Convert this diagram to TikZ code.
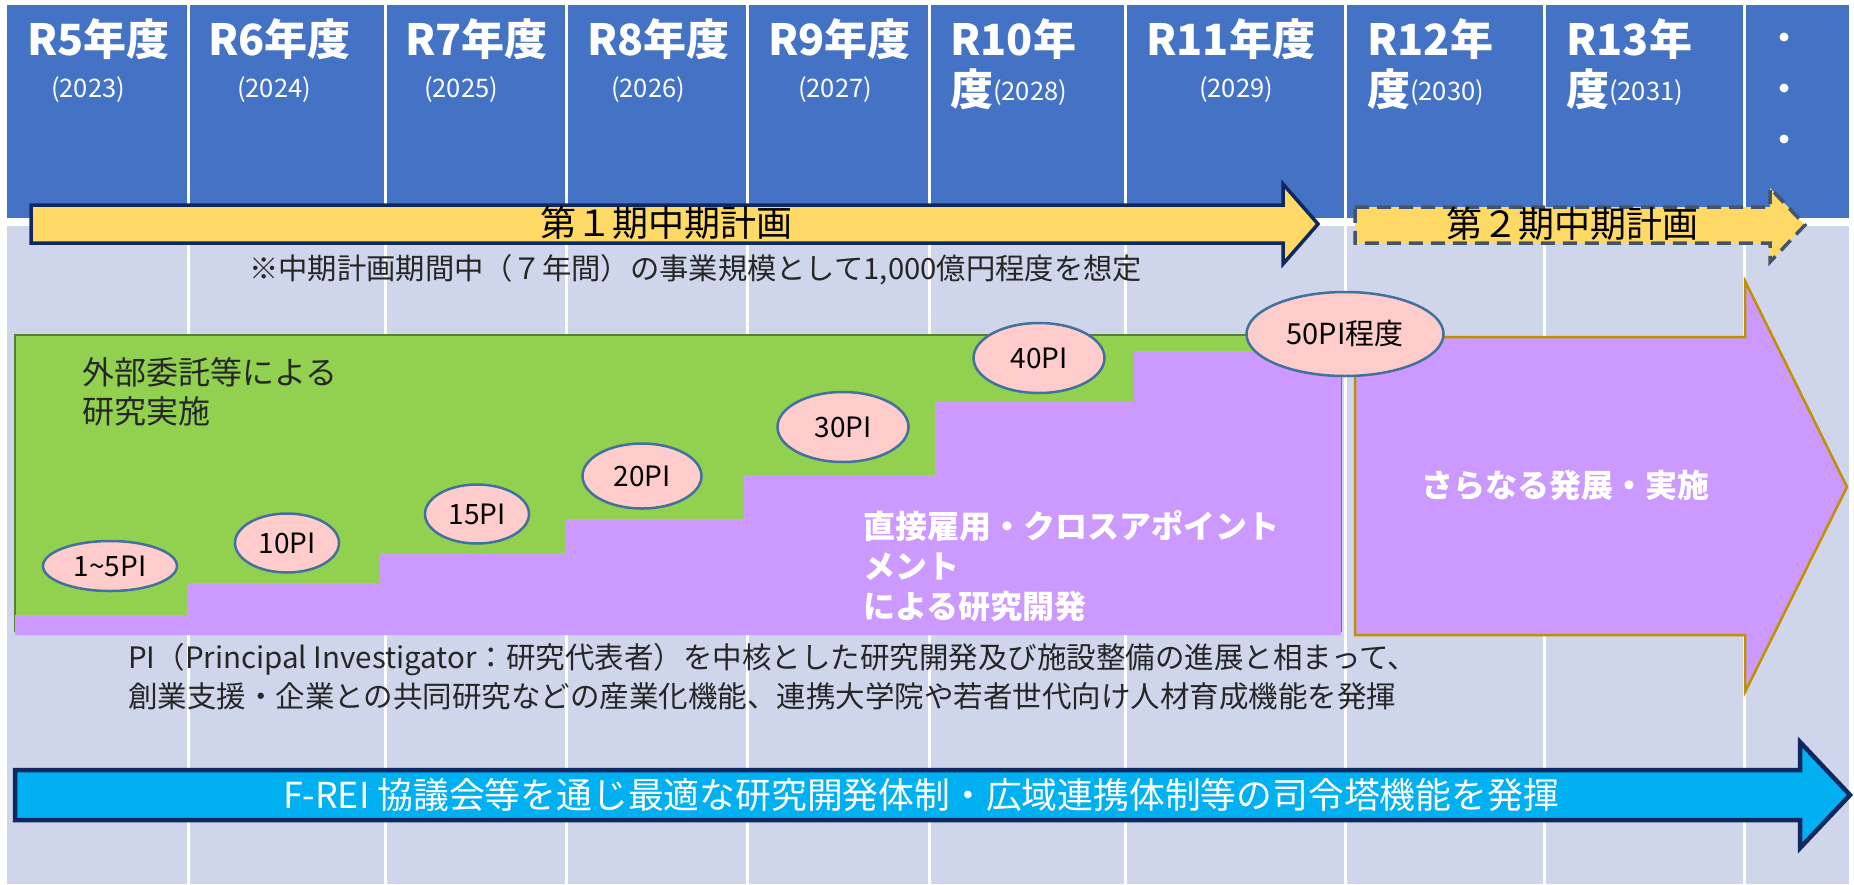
\documentclass[tikz,border=0pt]{standalone}
\usepackage{fontspec}
\setmainfont{Noto Sans CJK JP}
\usetikzlibrary{shapes.geometric}
\definecolor{hdr}{HTML}{4472C4}
\definecolor{bodybg}{HTML}{CFD5EA}
\definecolor{navy}{HTML}{102860}
\definecolor{gold}{HTML}{FFD966}
\definecolor{slate}{HTML}{44546A}
\definecolor{grn}{HTML}{92D050}
\definecolor{grnline}{HTML}{548235}
\definecolor{purp}{HTML}{CC99FF}
\definecolor{ochre}{HTML}{BF9000}
\definecolor{pinkfill}{HTML}{FFCCCC}
\definecolor{steel}{HTML}{41719C}
\definecolor{cyanb}{HTML}{00B0F0}
\definecolor{txt}{HTML}{262626}
\begin{document}
\begin{tikzpicture}[x=1pt,y=-1pt,
  hdrlabel/.style={anchor=north west, inner sep=0, text=white, font=\fontsize{43}{50}\selectfont\bfseries, align=left},
  yearlabel/.style={inner sep=0, text=white, font=\fontsize{25.5}{25.5}\selectfont},
  pinode/.style={ellipse, fill=pinkfill, draw=steel, line width=2.5pt, inner sep=0, font=\fontsize{28}{28}\selectfont},
  divider/.style={white, line width=3pt},
  plantext/.style={inner sep=0, font=\fontsize{36}{36}\selectfont, text=black},
]
\useasboundingbox (0,0) rectangle (1854,884);
\fill[white] (0,0) rectangle (1854,884);
\fill[hdr] (7,5) rectangle (1849,218);
\fill[bodybg] (7,226) rectangle (1849,884);
\foreach \x in {188,385,566,747,929,1125,1345,1544,1744} \draw[divider] (\x,5) -- (\x,884);

% header labels
\node[hdrlabel] (h5) at (27,18) {R5年度};
\node[hdrlabel] (h6) at (208,18) {R6年度};
\node[hdrlabel] (h7) at (405,18) {R7年度};
\node[hdrlabel] (h8) at (587,18) {R8年度};
\node[hdrlabel] (h9) at (768,18) {R9年度};
\node[hdrlabel] (h10) at (950,18) {R10年\\度\raisebox{5pt}{\fontsize{25.5}{25.5}\selectfont\mdseries(2028)}};
\node[hdrlabel] (h11) at (1146,18) {R11年度};
\node[hdrlabel] (h12) at (1367,18) {R12年\\度\raisebox{5pt}{\fontsize{25.5}{25.5}\selectfont\mdseries(2030)}};
\node[hdrlabel] (h13) at (1566,18) {R13年\\度\raisebox{5pt}{\fontsize{25.5}{25.5}\selectfont\mdseries(2031)}};
\node[yearlabel] (y5) at (88,90) {(2023)};
\node[yearlabel] (y6) at (274,90) {(2024)};
\node[yearlabel] (y7) at (461,90) {(2025)};
\node[yearlabel] (y8) at (648,90) {(2026)};
\node[yearlabel] (y9) at (835,90) {(2027)};
\node[yearlabel] (y11) at (1236,90) {(2029)};
\node[circle, fill=white, minimum size=9, inner sep=0] (d1) at (1784,37) {};
\node[circle, fill=white, minimum size=9, inner sep=0] (d2) at (1784,88) {};
\node[circle, fill=white, minimum size=9, inner sep=0] (d3) at (1784,139) {};

% plan arrows
\draw[fill=gold, draw=navy, line width=3.5pt, line join=miter] (31,205) -- (1283,205) -- (1283,184) -- (1318,224) -- (1283,264) -- (1283,243) -- (31,243) -- cycle;
\node[plantext] (plan1) at (666,223) {第１期中期計画};
\draw[fill=gold, draw=slate, line width=3.5pt, dash pattern=on 14pt off 8pt] (1355,207) -- (1770,207) -- (1770,188) -- (1805,225) -- (1770,262) -- (1770,243) -- (1355,243) -- cycle;
\node[plantext] (plan2) at (1572,224) {第２期中期計画};
\node[inner sep=0, anchor=west, font=\fontsize{29.3}{29.3}\selectfont, text=txt] (note) at (249,270) {※中期計画期間中（７年間）の事業規模として1,000億円程度を想定};

% green box and stairs
\draw[fill=grn, draw=grnline, line width=2.5pt] (15,335) rectangle (1341,631);
\fill[purp] (15,635) -- (15,615) -- (187,615) -- (187,583) -- (380,583) -- (380,553) -- (565,553) -- (565,519) -- (744,519) -- (744,475) -- (935,475) -- (935,402) -- (1134,402) -- (1134,351) -- (1341,351) -- (1341,635) -- cycle;
\node[anchor=north west, align=left, inner sep=0, font=\fontsize{32}{39}\selectfont, text=txt] (ext) at (82,357) {外部委託等による\\研究実施};
\node[anchor=north west, align=left, inner sep=0, text=white, font=\fontsize{32}{40}\selectfont\bfseries] (direct) at (863,510) {直接雇用・クロスアポイント\\メント\\による研究開発};

% further development arrow
\draw[fill=purp, draw=ochre, line width=2.5pt] (1355,337) -- (1745,337) -- (1745,281) -- (1847,487) -- (1745,692) -- (1745,635) -- (1355,635) -- cycle;
\node[inner sep=0, text=white, font=\fontsize{32}{32}\selectfont\bfseries] (further) at (1565,485) {さらなる発展・実施};

% PI ellipses
\node[pinode, minimum width=134, minimum height=50] (e1) at (110,566) {1\textasciitilde5PI};
\node[pinode, minimum width=104, minimum height=59] (e2) at (287,543) {10PI};
\node[pinode, minimum width=104, minimum height=59] (e3) at (477,514) {15PI};
\node[pinode, minimum width=119, minimum height=65] (e4) at (642,476) {20PI};
\node[pinode, minimum width=131, minimum height=70] (e5) at (843,427) {30PI};
\node[pinode, minimum width=131, minimum height=70] (e6) at (1039,358) {40PI};
\node[pinode, minimum width=197, minimum height=84, font=\fontsize{29}{29}\selectfont] (e7) at (1345,334) {50PI程度};

% paragraph
\node[anchor=north west, align=left, inner sep=0, font=\fontsize{29.5}{39}\selectfont, text=txt] (para) at (128,643) {PI（Principal Investigator：研究代表者）を中核とした研究開発及び施設整備の進展と相まって、\\創業支援・企業との共同研究などの産業化機能、連携大学院や若者世代向け人材育成機能を発揮};

% F-REI arrow
\draw[fill=cyanb, draw=navy, line width=4.5pt] (15,770) -- (1800,770) -- (1800,742) -- (1850,795) -- (1800,848) -- (1800,820) -- (15,820) -- cycle;
\node[inner sep=0, text=white, font=\fontsize{35.8}{35.8}\selectfont] (frei) at (921,795) {F-REI 協議会等を通じ最適な研究開発体制・広域連携体制等の司令塔機能を発揮};
\end{tikzpicture}
\end{document}
